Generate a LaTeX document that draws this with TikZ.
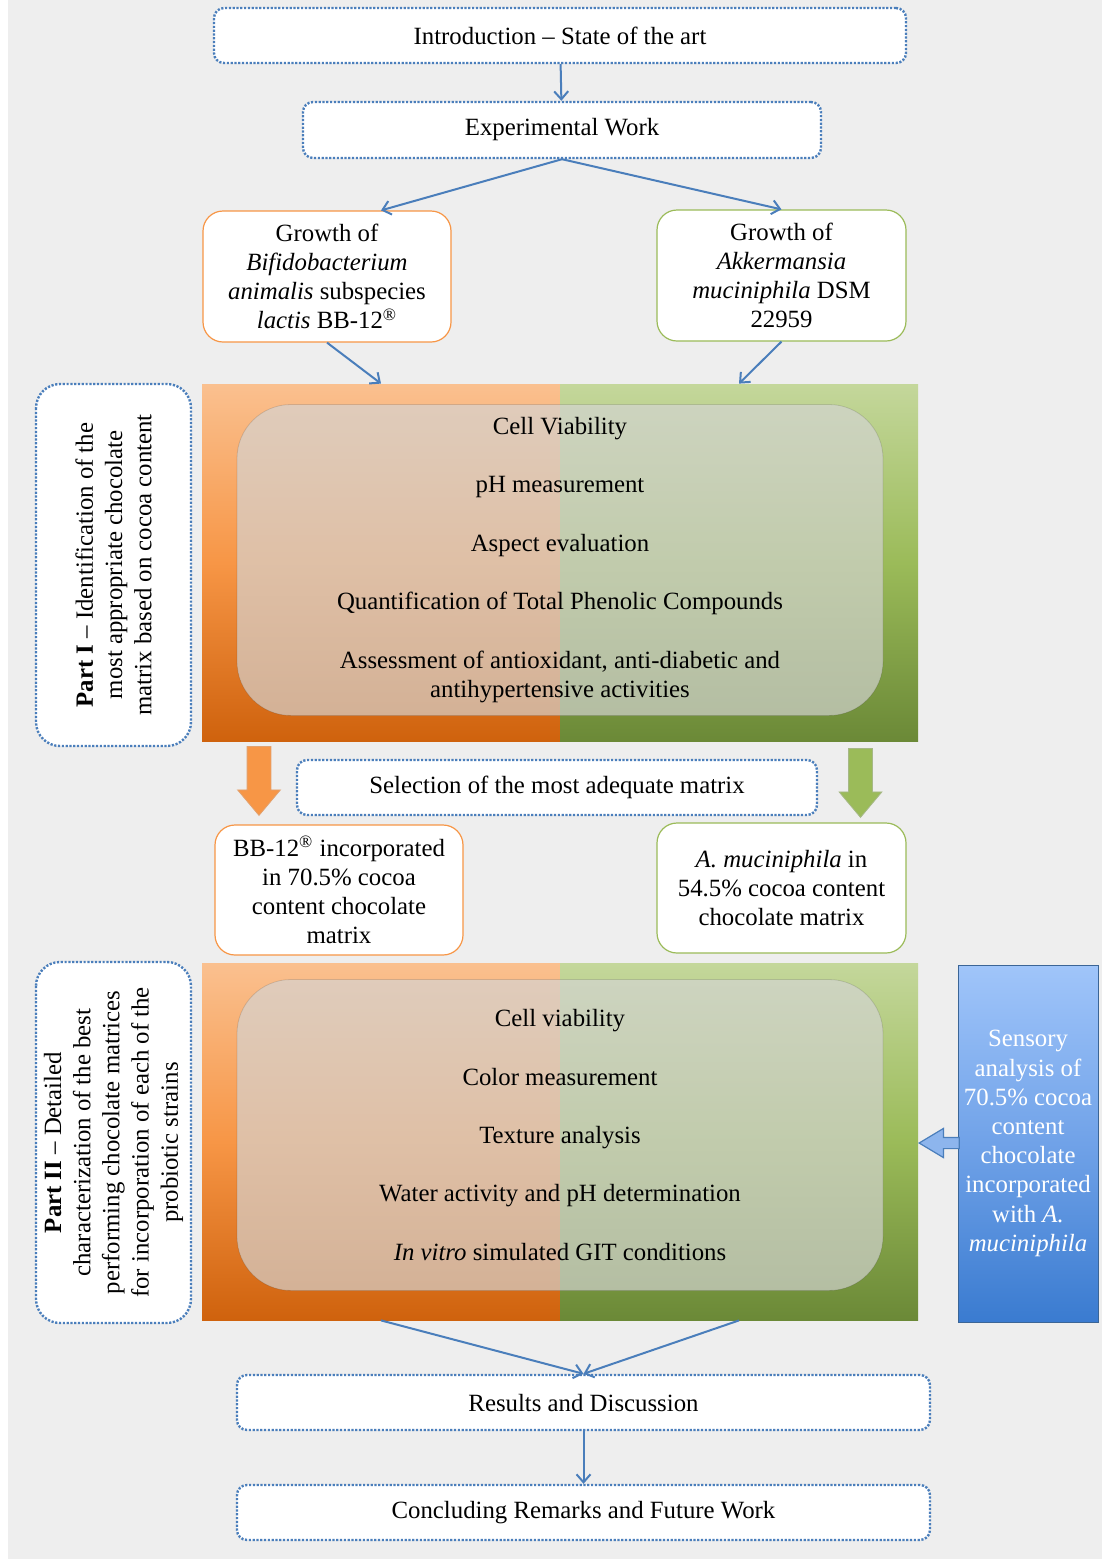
\documentclass[tikz,border=0pt]{standalone}
\usepackage{fontspec}
\setmainfont{Liberation Serif}
\usetikzlibrary{shapes.arrows,arrows.meta,positioning,calc}
\definecolor{lineblue}{RGB}{74,126,187}
\definecolor{bggrey}{RGB}{238,238,238}
\definecolor{orangelight}{RGB}{250,192,143}
\definecolor{orangemid}{RGB}{247,150,70}
\definecolor{orangedark}{RGB}{207,98,13}
\definecolor{greenlight}{RGB}{196,215,155}
\definecolor{greenmid}{RGB}{155,187,89}
\definecolor{greendark}{RGB}{107,137,55}
\definecolor{bluelight}{RGB}{160,197,250}
\definecolor{bluemid}{RGB}{112,162,232}
\definecolor{bluedark}{RGB}{58,123,208}
\definecolor{panelgrey}{RGB}{212,212,212}

\begin{document}
\begin{tikzpicture}[
    x=0.5pt, y=-0.5pt,
    font=\fontsize{12.4}{14.6}\selectfont,
    dotbox/.style={draw=lineblue, line width=1.2pt, dash pattern=on 1.1pt off 0.8pt,
                   fill=white, rounded corners=5pt, align=center, inner sep=2pt},
    growbox/.style={fill=white, rounded corners=10pt, line width=0.6pt,
                    align=center, inner sep=2pt, minimum width=124pt},
    halfpanel/.style={minimum width=179pt, minimum height=178.5pt, inner sep=0pt},
    inpanel/.style={fill=panelgrey, fill opacity=0.68, text opacity=1,
                    draw=black, draw opacity=0.12, rounded corners=27pt,
                    minimum width=323pt, minimum height=155.5pt, align=center},
    partbox/.style={dotbox, rounded corners=12pt, rotate=90, minimum height=77.5pt},
    blockarr/.style={single arrow, text height=0pt, text depth=0pt, text width=0pt,
                     single arrow head indent=0pt},
    arr/.style={-{Straight Barb[length=4pt,width=7pt]}, line width=1pt, lineblue},
]
    \useasboundingbox (0,0) rectangle (1102,1559);
    \fill[bggrey] (8,0) rectangle (1102,1559);

    % top of the flow
    \node[dotbox, minimum width=346pt, minimum height=27.5pt] (intro) at (560,35.5) {Introduction -- State of the art};
    \node[dotbox, minimum width=259pt, minimum height=28pt] (exp) at (562,130) {Experimental Work};

    \node[growbox, draw=orangemid, minimum height=65.5pt] (bif) at (327,276.5)
        {Growth of\\\textit{Bifidobacterium}\\\textit{animalis} subspecies\\\textit{lactis} BB-12\textsuperscript{®}};
    \node[growbox, draw=greenmid, minimum width=124.5pt, minimum height=65.5pt] (akk) at (781.5,275.5)
        {Growth of\\\textit{Akkermansia}\\\textit{muciniphila} DSM\\22959};

    % part I
    \node[halfpanel, top color=orangelight, bottom color=orangedark, middle color=orangemid] (p1l) at (381,562.5) {};
    \node[halfpanel, top color=greenlight, bottom color=greendark, middle color=greenmid] (p1r) at (739,562.5) {};
    \node[inpanel] (p1in) at (560,560) {Cell Viability\\[14.6pt]pH measurement\\[14.6pt]Aspect evaluation\\[14.6pt]Quantification of Total Phenolic Compounds\\[14.6pt]Assessment of antioxidant, anti-diabetic and\\antihypertensive activities};
    \node[partbox, minimum width=181pt] (part1) at (113.5,565)
        {\textbf{Part I} -- Identification of the\\most appropriate chocolate\\matrix based on cocoa content};

    % selection
    \node[blockarr, fill=orangemid, draw=orangedark!60, inner sep=5.75pt, minimum height=34.5pt,
          single arrow head extend=4.75pt, single arrow tip angle=80, shape border rotate=270,
          anchor=tail] (selL) at (259,746) {};
    \node[blockarr, fill=greenmid, draw=greendark!60, inner sep=5.75pt, minimum height=34.5pt,
          single arrow head extend=4.75pt, single arrow tip angle=80, shape border rotate=270,
          anchor=tail] (selR) at (860.5,748) {};
    \node[dotbox, minimum width=260pt, minimum height=27.5pt] (sel) at (557,787.5) {Selection of the most adequate matrix};

    \node[growbox, draw=orangemid, minimum height=65pt] (bb) at (339,890)
        {BB-12\textsuperscript{®} incorporated\\in 70.5\% cocoa\\content chocolate\\matrix};
    \node[growbox, draw=greenmid, minimum width=124.5pt, minimum height=65pt] (am) at (781.5,888)
        {\textit{A. muciniphila} in\\54.5\% cocoa content\\chocolate matrix};

    % part II
    \node[halfpanel, top color=orangelight, bottom color=orangedark, middle color=orangemid] (p2l) at (381,1141.5) {};
    \node[halfpanel, top color=greenlight, bottom color=greendark, middle color=greenmid] (p2r) at (739,1141.5) {};
    \node[inpanel] (p2in) at (560,1135) {Cell viability\\[14.6pt]Color measurement\\[14.6pt]Texture analysis\\[14.6pt]Water activity and pH determination\\[14.6pt]\textit{In vitro} simulated GIT conditions};
    \node[partbox, minimum width=180.5pt] (part2) at (113.5,1142.5)
        {\textbf{Part II} -- Detailed\\characterization of the best\\performing chocolate matrices\\for incorporation of each of the\\probiotic strains};

    \node[draw=lineblue!80!black, line width=0.5pt, top color=bluelight, bottom color=bluedark, middle color=bluemid,
          minimum width=70pt, minimum height=178.5pt, align=center, text=white, inner sep=1pt] (sens) at (1028,1143.5)
        {Sensory\\analysis of\\70.5\% cocoa\\content\\chocolate\\incorporated\\with \textit{A.}\\\textit{muciniphila}};
    \node[blockarr, fill=bluemid!80!white, draw=lineblue, line width=0.6pt, inner sep=2.5pt, minimum height=20pt,
          single arrow head extend=4.5pt, single arrow tip angle=62, shape border rotate=180,
          anchor=tip] (sensarr) at (918,1143) {};

    % bottom of the flow
    \node[dotbox, minimum width=346.5pt, minimum height=27.5pt] (res) at (583.5,1402.5) {Results and Discussion};
    \node[dotbox, minimum width=346.5pt, minimum height=27.5pt] (concl) at (583.5,1512.5) {Concluding Remarks and Future Work};

    \draw[arr] (intro) -- (exp);
    \draw[arr] (exp.south) -- (bif.north -| p1l.north);
    \draw[arr] (exp.south) -- (akk.north);
    \draw[arr] (bif.south) -- (p1l.north);
    \draw[arr] (akk.south) -- (p1r.north);
    \draw[arr] (p2l.south) -- (res.north);
    \draw[arr] (p2r.south) -- (res.north);
    \draw[arr] (res) -- (concl);
\end{tikzpicture}
\end{document}
